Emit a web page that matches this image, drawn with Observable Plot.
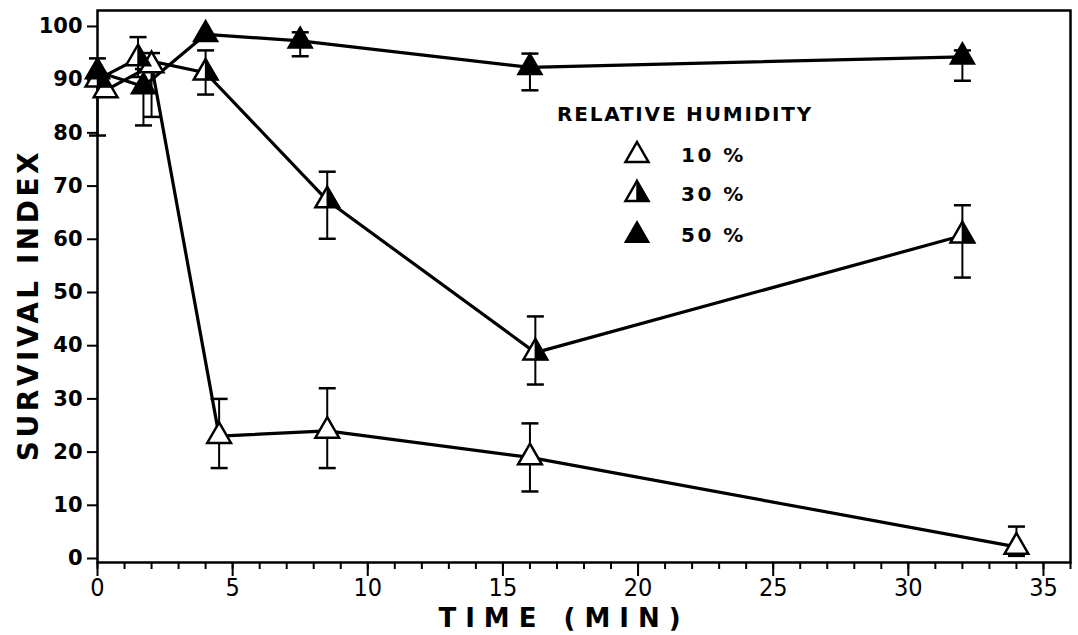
<!DOCTYPE html>
<html><head><meta charset="utf-8">
<script src="https://cdn.jsdelivr.net/npm/d3@7"></script>
<script src="https://cdn.jsdelivr.net/npm/@observablehq/plot@0.6"></script>
<style>
body{margin:0;background:#fff;}
#wrap{position:relative;width:1078px;height:635px;overflow:hidden;}
#overlay{position:absolute;left:0;top:0;pointer-events:none;}
</style></head><body><div id="wrap"></div>
<script>
// ---- data ----
const seriesNames = ["10 %", "30 %", "50 %"];
const time10  = [0.3, 2, 4.5, 8.5, 16, 34];
const value10 = [88, 92.7, 23, 24, 19, 2.2];
const low10   = [null, 83, 17, 17, 12.6, 0.5];
const high10  = [null, 95, 30, 32, 25.4, 6];

const time30  = [0, 1.5, 4, 8.5, 16.2, 32];
const value30 = [90, 94, 91.3, 67.3, 38.7, 60.7];
const low30   = [79.5, 90.5, 87.2, 60.1, 32.7, 52.8];
const high30  = [94, 98, 95.5, 72.7, 45.5, 66.4];

const time50  = [0, 1.7, 4, 7.5, 16, 32];
const value50 = [91.5, 88.7, 98.5, 97.3, 92.3, 94.3];
const low50   = [null, 81.4, null, 94.4, 88, 89.8];
const high50  = [null, 92, null, 98.9, 94.9, 95.5];

const yTicks = [0, 10, 20, 30, 40, 50, 60, 70, 80, 90, 100];
const xTicks = [0, 5, 10, 15, 20, 25, 30, 35];
const xMinorTicks = d3.range(0, 37, 1);

// ---- build table ----
function rowsOf(name, t, v, lo, hi) {
  return t.map((d, i) => ({series: name, time: d, value: v[i], low: lo[i], high: hi[i]}));
}
const rows = [
  ...rowsOf(seriesNames[0], time10, value10, low10, high10),
  ...rowsOf(seriesNames[1], time30, value30, low30, high30),
  ...rowsOf(seriesNames[2], time50, value50, low50, high50)
];
const errRows = rows.filter(d => d.low != null);

// ---- symbols ----
const S3 = Math.sqrt(3);
const triSym = {draw(ctx, size) {
  const y = -Math.sqrt(size / (3 * S3));
  ctx.moveTo(0, 2 * y); ctx.lineTo(-S3 * y, -y); ctx.lineTo(S3 * y, -y); ctx.closePath();
}};
const halfSym = {draw(ctx, size) {
  const y = -Math.sqrt(size / (3 * S3));
  ctx.moveTo(0, 2 * y); ctx.lineTo(-S3 * y, -y); ctx.lineTo(0, -y); ctx.closePath();
}};
const capSym = {draw(ctx, size) { ctx.moveTo(-8.5, 0); ctx.lineTo(8.5, 0); }};

const R = 8.8;
const chart = Plot.plot({
  width: 1078, height: 635,
  marginLeft: 97, marginRight: 8, marginTop: 10, marginBottom: 73,
  x: {domain: [0, 36], label: null},
  y: {domain: [-0.75, 103], label: null},
  style: {fontFamily: "'DejaVu Sans', sans-serif", background: "white", color: "black"},
  marks: [
    Plot.axisY({ticks: yTicks, tickSize: 10, tickPadding: 5, fontSize: 21, fontWeight: "bold", strokeWidth: 2, label: null}),
    Plot.axisX({ticks: xMinorTicks, tickSize: 7, tickFormat: () => "", strokeWidth: 2, label: null}),
    Plot.axisX({ticks: xTicks, tickSize: 14, tickPadding: 2, fontSize: 25, fontFamily: "'DejaVu Sans Condensed', 'DejaVu Sans', sans-serif", strokeWidth: 2, label: null}),
    Plot.frame({stroke: "black", strokeWidth: 2.5}),
    Plot.ruleX(errRows, {x: "time", y1: "low", y2: "high", stroke: "black", strokeWidth: 2}),
    Plot.dot(errRows, {x: "time", y: "low", symbol: capSym, r: 5, fill: "none", stroke: "black", strokeWidth: 2.5}),
    Plot.dot(errRows, {x: "time", y: "high", symbol: capSym, r: 5, fill: "none", stroke: "black", strokeWidth: 2.5}),
    Plot.line(rows, {x: "time", y: "value", z: "series", stroke: "black", strokeWidth: 3.2, sort: "time"}),
    Plot.dot(rows.filter(d => d.series !== seriesNames[2]), {x: "time", y: "value", symbol: triSym, r: R, fill: "white", stroke: "black", strokeWidth: 2.5}),
    Plot.dot(rows.filter(d => d.series === seriesNames[1]), {x: "time", y: "value", symbol: halfSym, r: R, fill: "black", stroke: "black", strokeWidth: 1.5}),
    Plot.dot(rows.filter(d => d.series === seriesNames[2]), {x: "time", y: "value", symbol: triSym, r: R, fill: "black", stroke: "black", strokeWidth: 2})
  ]
});
const wrap = document.getElementById("wrap");
wrap.appendChild(chart);

// ---- titles and legend overlay ----
const ov = d3.select(wrap).append("svg").attr("id", "overlay").attr("width", 1078).attr("height", 635)
  .style("font-family", "'DejaVu Sans', sans-serif");
ov.append("text").attr("transform", "translate(38,305) rotate(-90)").attr("text-anchor", "middle")
  .attr("font-size", 28).attr("font-weight", "bold").attr("letter-spacing", 3.5).text("SURVIVAL INDEX");
ov.append("text").attr("x", 564).attr("y", 627).attr("text-anchor", "middle")
  .attr("font-size", 26).attr("font-weight", "bold").attr("letter-spacing", 9).text("TIME (MIN)");
ov.append("text").attr("x", 557).attr("y", 121).attr("font-size", 20).attr("font-weight", "bold")
  .attr("letter-spacing", 1.8).text("RELATIVE HUMIDITY");
const legY = [162, 201, 242];
const tri = (cx, by) => `M${cx},${by - 20}L${cx + 11.5},${by}L${cx - 11.5},${by}Z`;
const half = (cx, by) => `M${cx},${by - 20}L${cx + 11.5},${by}L${cx},${by}Z`;
seriesNames.forEach((name, i) => {
  const by = legY[i];
  if (i < 2) ov.append("path").attr("d", tri(637, by)).attr("fill", "white").attr("stroke", "black").attr("stroke-width", 2.5);
  if (i === 1) ov.append("path").attr("d", half(637, by)).attr("fill", "black").attr("stroke", "black").attr("stroke-width", 1.5);
  if (i === 2) ov.append("path").attr("d", tri(637, by)).attr("fill", "black").attr("stroke", "black").attr("stroke-width", 2);
  ov.append("text").attr("x", 681).attr("y", by).attr("font-size", 20).attr("font-weight", "bold")
    .attr("letter-spacing", 2.5).text(name);
});
</script></body></html>
